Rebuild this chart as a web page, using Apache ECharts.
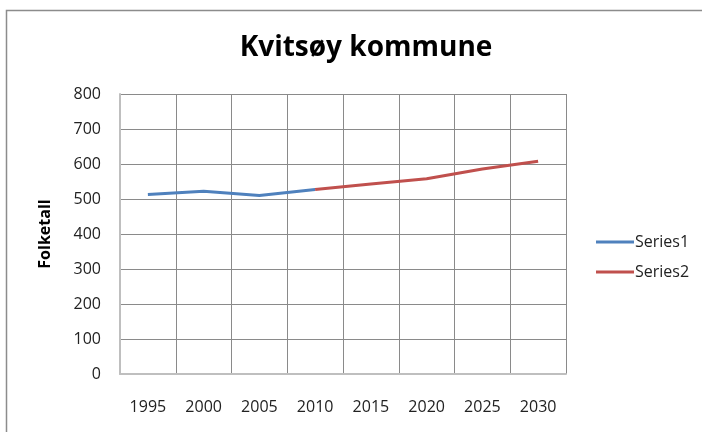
<!DOCTYPE html>
<html>
<head>
<meta charset="utf-8">
<script src="https://cdn.jsdelivr.net/npm/echarts@6/dist/echarts.min.js"></script>
<style>
  html, body { margin: 0; padding: 0; background: #fff; }
  #chart { width: 702px; height: 432px; }
</style>
</head>
<body>
<div id="chart"></div>
<script>
// årstall og folketall
const years = ['1995', '2000', '2005', '2010', '2015', '2020', '2025', '2030'];
const series1 = [513, 522, 510, 527, null, null, null, null];
const series2 = [null, null, null, 527, 543, 558, 586, 608];
const yTicks = { min: 0, max: 800, interval: 100 };

const font = 'Open Sans, Liberation Sans, sans-serif';
const chart = echarts.init(document.getElementById('chart'));

chart.setOption({
  animation: false,
  backgroundColor: '#fff',
  title: {
    text: 'Kvitsøy kommune',
    left: 361,
    top: 29,
    textAlign: 'center',
    textStyle: { fontFamily: font, fontSize: 28, fontWeight: 'bold', color: '#000' }
  },
  graphic: [{
    type: 'rect',
    shape: { x: 6.5, y: 10.5, width: 800, height: 600 },
    style: { fill: 'none', stroke: '#8c8c8c', lineWidth: 1.5 }
  }],
  legend: {
    orient: 'vertical',
    left: 591,
    top: 229,
    itemWidth: 38,
    itemHeight: 3,
    itemGap: 14,
    icon: 'rect',
    textStyle: { fontFamily: font, fontSize: 16, color: '#222', padding: [0, 0, 0, -4] },
    data: ['Series1', 'Series2']
  },
  grid: { left: 120, right: 136, top: 94, bottom: 58 },
  xAxis: {
    type: 'category',
    data: years,
    boundaryGap: true,
    axisLine: { lineStyle: { color: '#bfbfbf', width: 2 } },
    axisTick: { show: false },
    axisLabel: { fontFamily: font, fontSize: 16, color: '#222', margin: 25 },
    splitLine: { show: true, lineStyle: { color: '#8a8a8a', width: 1 } }
  },
  yAxis: {
    type: 'value',
    min: yTicks.min,
    max: yTicks.max,
    interval: yTicks.interval,
    name: 'Folketall',
    nameLocation: 'middle',
    nameGap: 67,
    nameTextStyle: { fontFamily: font, fontSize: 16, fontWeight: 'bold', color: '#000' },
    axisLine: { show: true, lineStyle: { color: '#bfbfbf', width: 2 } },
    axisTick: { show: false },
    axisLabel: { fontFamily: font, fontSize: 16, color: '#222', margin: 19 },
    splitLine: { lineStyle: { color: '#8a8a8a', width: 1 } }
  },
  series: [{
    name: 'Series1',
    type: 'line',
    data: series1,
    showSymbol: false,
    color: '#4f81bd',
    lineStyle: { width: 3 }
  }, {
    name: 'Series2',
    type: 'line',
    data: series2,
    showSymbol: false,
    color: '#c0504d',
    lineStyle: { width: 3 }
  }]
});
</script>
</body>
</html>
